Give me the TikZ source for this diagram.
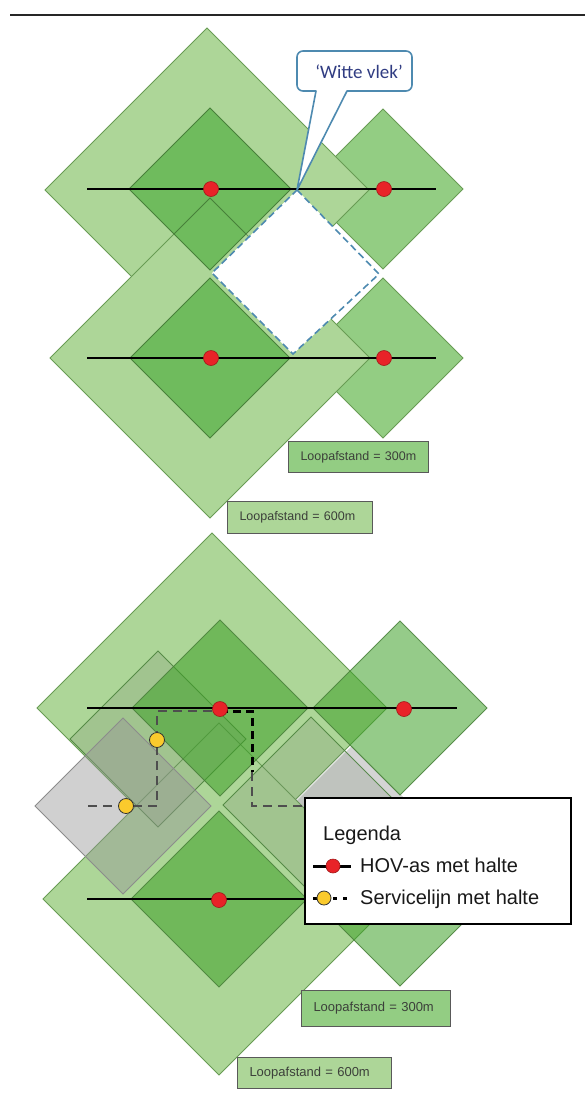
\documentclass[tikz,border=0pt]{standalone}
\usepackage{fontspec}
\setmainfont{Liberation Sans}
\newfontfamily\calloutfont{Carlito}

\definecolor{zoneLight}{RGB}{173,214,152}
\definecolor{zoneCore}{RGB}{111,187,93}
\definecolor{zoneMid}{RGB}{147,205,131}
\definecolor{zoneEdge}{RGB}{104,156,84}
\definecolor{coreEdge}{RGB}{72,128,58}
\definecolor{hovFill}{RGB}{62,160,40}
\definecolor{svcTint}{RGB}{120,135,115}
\definecolor{svcGrayFill}{RGB}{150,150,150}
\definecolor{gapGray}{RGB}{212,212,212}
\definecolor{stopRed}{RGB}{232,35,40}
\definecolor{stopRedEdge}{RGB}{160,25,25}
\definecolor{stopYellow}{RGB}{250,202,45}
\definecolor{calloutBlue}{RGB}{78,138,176}
\definecolor{calloutText}{RGB}{48,60,130}
\definecolor{labelText}{RGB}{60,64,58}
\definecolor{svcGray}{RGB}{78,78,78}

% a square turned by 45 degrees: centre (#2,#3), half diagonal #4
\newcommand{\rhomb}[4][]{\path[#1] ({#2},{#3-#4}) -- ({#2+#4},{#3}) -- ({#2},{#3+#4}) -- ({#2-#4},{#3}) -- cycle;}

\begin{document}
\begin{tikzpicture}[x=1pt,y=-1pt,
  bigzone/.style={fill=zoneLight, draw=zoneEdge, line width=0.8pt},
  corezone/.style={fill=zoneCore, draw=coreEdge, line width=0.8pt},
  sidezone/.style={fill=zoneMid, draw=zoneEdge, line width=0.8pt},
  hovzone/.style={fill=hovFill, fill opacity=0.55, draw=coreEdge, draw opacity=0.85, line width=0.8pt},
  svczone/.style={fill=svcTint, fill opacity=0.22, draw=coreEdge, draw opacity=0.85, line width=0.8pt},
  grayzone/.style={fill=svcGrayFill, fill opacity=0.45, draw=black!45, line width=0.8pt},
  gapzone/.style={fill=gapGray, draw=white, line width=0.8pt},
  edgeline/.style={draw=coreEdge, line width=0.8pt},
  witte/.style={fill=white, draw=calloutBlue, line width=1.6pt, dash pattern=on 7pt off 4pt},
  hovline/.style={line width=2.8pt, black},
  hovstop/.style={circle, fill=stopRed, draw=stopRedEdge, line width=0.6pt, inner sep=0pt, minimum size=15pt},
  svcstop/.style={circle, fill=stopYellow, draw=black!80, line width=0.8pt, inner sep=0pt, minimum size=15pt},
  svcline/.style={line width=2.6pt, svcGray, dash pattern=on 9pt off 6pt},
  svclinedark/.style={line width=3pt, black, dash pattern=on 8pt off 5pt},
  distlabel/.style={draw=black!65, line width=1pt, anchor=north west, inner xsep=12pt, inner ysep=0pt,
    align=left, text=labelText, font=\fontsize{12.5}{14}\selectfont},
  legtext/.style={anchor=base west, inner sep=0pt, font=\fontsize{20}{24}\selectfont, text=black!90}
]
\useasboundingbox (0,0) rectangle (585,1104);

% header rule
\coordinate (ruleL) at (10,15);
\coordinate (ruleR) at (585,15);
\draw[line width=2.5pt, black!85] (ruleL) -- (ruleR);

% ================= upper scheme: two HOV lines =================
\rhomb[sidezone]{383}{189}{80}
\rhomb[sidezone]{383}{358}{80}
\rhomb[bigzone]{207}{190}{162}
\rhomb[bigzone]{210}{358}{160}
\rhomb[corezone]{210}{189}{81}
\rhomb[corezone]{210}{358}{80}
% edge of the lower 600m zone seen through the upper 300m zone
\coordinate (ovA) at (174,234);
\coordinate (ovB) at (210,198);
\coordinate (ovC) at (246,234);
\draw[edgeline] (ovA) -- (ovB) -- (ovC);

% the uncovered spot
\coordinate (wTop) at (297,190);
\coordinate (wRight) at (379,274);
\coordinate (wBottom) at (293,354);
\coordinate (wLeft) at (212,273);
\path[witte] (wTop) -- (wRight) -- (wBottom) -- (wLeft) -- cycle;

% HOV lines
\coordinate (la1) at (87,189);
\coordinate (la2) at (436,189);
\coordinate (lb1) at (87,358);
\coordinate (lb2) at (436,358);
\draw[hovline] (la1) -- (la2);
\draw[hovline] (lb1) -- (lb2);
\node[hovstop] (a1) at (211,189) {};
\node[hovstop] (a2) at (384,189) {};
\node[hovstop] (b1) at (211,358) {};
\node[hovstop] (b2) at (384,358) {};

% callout
\coordinate (cbL) at (316,91);
\coordinate (cbR) at (347,91);
\draw[calloutBlue, line width=1.6pt, fill=white, line join=round]
  (cbL) [rounded corners=6pt] -- (297,91) -- (297,51) -- (412,51) -- (412,91) [sharp corners] -- (cbR) -- (wTop) -- cycle;
\node[font=\calloutfont\fontsize{19}{21}\selectfont, text=calloutText, inner sep=0pt] (witteLabel) at (359,72) {‘Witte vlek’};

% distance labels
\node[distlabel, fill=zoneMid, text width=116pt, minimum height=31pt] (lab300a) at (288,441) {Loopafstand = 300m};
\node[distlabel, fill=zoneLight, text width=121pt, minimum height=32pt] (lab600a) at (227,501) {Loopafstand = 600m};

% ================= lower scheme: with service line =================
\rhomb[gapzone]{352}{801}{56}
\rhomb[bigzone]{212}{708}{175}
\rhomb[bigzone]{219}{899}{176}
\rhomb[svczone]{311}{805}{88}
\rhomb[svczone]{158}{739}{88}
\rhomb[grayzone]{123}{806}{88}
\rhomb[hovzone]{220}{708}{88}
\rhomb[hovzone]{219}{899}{88}
\rhomb[hovzone]{400}{708}{87}
\rhomb[hovzone]{400}{899}{87}

\coordinate (legNW) at (304,797);

% HOV lines
\coordinate (lc1) at (87,708);
\coordinate (lc2) at (457,708);
\coordinate (ld1) at (87,899);
\draw[hovline] (lc1) -- (lc2);
\draw[hovline] (ld1) -- (legNW |- ld1);

% service line
\coordinate (sv0) at (88,806);
\coordinate (sv1) at (157,806);
\coordinate (sv2) at (157,711);
\coordinate (sv3) at (220,711);
\coordinate (sv4) at (252,711);
\coordinate (sv5) at (252,772);
\coordinate (sv6) at (252,806);
\draw[svcline] (sv0) -- (sv1) -- (sv2) -- (sv3);
\draw[svclinedark] (sv3) -- (sv4) -- (sv5);
\draw[svcline] (sv5) -- (sv6) -- (legNW |- sv6);

\node[hovstop] (c1) at (220,709) {};
\node[hovstop] (c2) at (404,709) {};
\node[hovstop] (d1) at (219,900) {};
\node[svcstop] (sA) at (157,740) {};
\node[svcstop] (sB) at (126,806) {};

% legend
\node[draw=black, line width=2pt, fill=white, anchor=north west, inner sep=0pt,
      minimum width=266pt, minimum height=126pt] (legend) at (legNW) {};
\node[legtext] (legTitle) at (323,840) {Legenda};
\coordinate (kh1) at (313,866);
\coordinate (kh2) at (351,866);
\draw[hovline, line width=3pt] (kh1) -- (kh2);
\node[hovstop, minimum size=14pt] (khs) at (333,866) {};
\node[legtext] (legHov) at (360,872) {HOV-as met halte};
\coordinate (ks1) at (313,898);
\coordinate (ks2) at (350,898);
\draw[line width=3pt, black, dash pattern=on 4pt off 6pt] (ks1) -- (ks2);
\node[svcstop, minimum size=14pt] (kss) at (324,898) {};
\node[legtext] (legSvc) at (360,904) {Servicelijn met halte};

% distance labels
\node[distlabel, fill=zoneMid, text width=125pt, minimum height=36pt, font=\fontsize{13}{15}\selectfont] (lab300b) at (301,990) {Loopafstand = 300m};
\node[distlabel, fill=zoneLight, text width=130pt, minimum height=31pt, font=\fontsize{13}{15}\selectfont] (lab600b) at (237,1057) {Loopafstand = 600m};

\end{tikzpicture}
\end{document}
